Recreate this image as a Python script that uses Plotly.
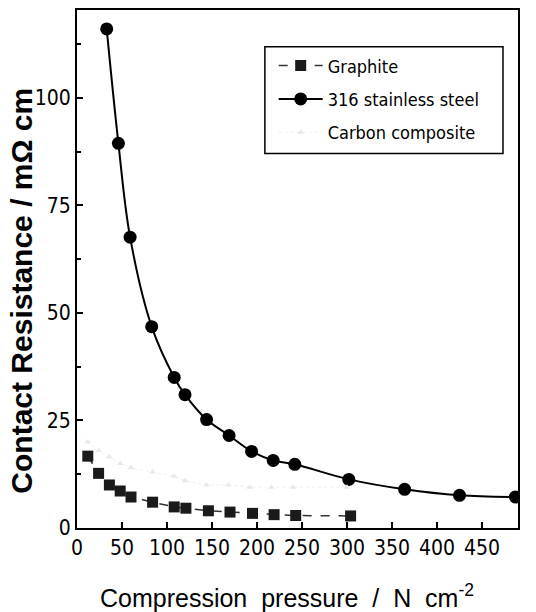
import plotly.graph_objects as go

# Data
graphite_x = [12, 24, 36, 48, 60, 84, 108, 121, 146, 170, 195, 219, 243, 304]
graphite_y = [16.7, 12.7, 10.0, 8.6, 7.2, 6.0, 4.9, 4.6, 4.0, 3.7, 3.4, 3.1, 2.9, 2.8]

steel_x = [33, 46, 59, 83, 108, 120, 144, 169, 194, 218, 242, 302, 364, 425, 487]
steel_y = [116, 89.4, 67.6, 46.8, 35.0, 31.0, 25.2, 21.5, 17.8, 15.7, 14.8, 11.3, 9.0, 7.6, 7.2]

carbon_x = [12, 24, 36, 48, 60, 84, 108, 120, 144, 168, 192, 216, 240, 300]
carbon_y = [20.0, 18.0, 16.5, 15.0, 14.0, 13.0, 12.0, 11.0, 10.0, 10.0, 9.5, 9.5, 9.5, 9.5]

x_ticks = [0, 50, 100, 150, 200, 250, 300, 350, 400, 450]
y_ticks = [0, 25, 50, 75, 100]

x_title = "Compression  pressure  /  N  cm<sup>-2</sup>"
y_title = "<b>Contact Resistance / mΩ cm</b>"

narrow = "DejaVu Sans Condensed, Liberation Sans Narrow, Arial Narrow, sans-serif"
tick_font = dict(family=narrow, size=21, color="black")

fig = go.Figure()
fig.add_trace(go.Scatter(
    x=graphite_x, y=graphite_y, name="Graphite", mode="lines+markers", legendgroup="g",
    line=dict(color="#333333", width=1.5, dash="dash"),
    marker=dict(symbol="square", size=11, color="#1a1a1a"),
))
fig.add_trace(go.Scatter(
    x=steel_x, y=steel_y, name="316 stainless steel", mode="lines+markers", legendgroup="s",
    line=dict(color="black", width=2, shape="spline"),
    marker=dict(symbol="circle", size=13, color="black"),
))
fig.add_trace(go.Scatter(
    x=carbon_x, y=carbon_y, name="Carbon composite", mode="lines+markers", legendgroup="c",
    line=dict(color="#efefef", width=1, dash="dot"),
    marker=dict(symbol="triangle-up", size=6, color="#e8e8e8"),
))

fig.update_layout(
    width=536, height=612,
    margin=dict(l=77, r=18, t=8, b=84),
    paper_bgcolor="white", plot_bgcolor="white",
    showlegend=True,
    legend=dict(
        x=0.446, y=0.928, xanchor="left", yanchor="top",
        borderwidth=0, bgcolor="rgba(255,255,255,0)",
        font=dict(family=narrow, size=18, color="black"),
        tracegroupgap=7, itemwidth=44,
    ),
    shapes=[dict(type="rect", xref="paper", yref="paper",
                 x0=0.426, x1=0.966, y0=0.723, y1=0.929,
                 line=dict(color="black", width=1.5), fillcolor="rgba(0,0,0,0)")],
    annotations=[
        dict(text=y_title, xref="paper", yref="paper", x=-0.125, y=0.458,
             xanchor="center", yanchor="middle", textangle=-90, showarrow=False,
             font=dict(family="Liberation Sans, Arial, sans-serif", size=30, color="black")),
        dict(text=x_title, xref="paper", yref="paper", x=0.476, y=-0.131,
             xanchor="center", yanchor="middle", showarrow=False,
             font=dict(family="Liberation Sans, Arial, sans-serif", size=25, color="black")),
    ],
)
fig.update_xaxes(
    range=[0, 490], tickvals=x_ticks, ticktext=[str(v) for v in x_ticks],
    ticks="inside", ticklen=6, tickwidth=1.5, tickcolor="black",
    showline=True, linecolor="black", linewidth=1.8, mirror=True,
    showgrid=False, zeroline=False, tickfont=tick_font,
)
fig.update_yaxes(
    range=[0, 120.4], tickvals=y_ticks, ticktext=[str(v) for v in y_ticks],
    ticks="inside", ticklen=6, tickwidth=1.5, tickcolor="black",
    minor=dict(ticks="inside", ticklen=4, tickcolor="black", dtick=12.5, tick0=0),
    showline=True, linecolor="black", linewidth=1.8, mirror=True,
    showgrid=False, zeroline=False, tickfont=tick_font,
)

fig.write_html("out.html")
